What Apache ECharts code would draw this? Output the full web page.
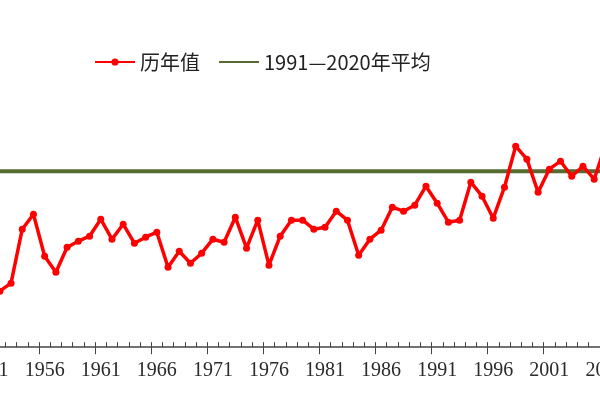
<!DOCTYPE html>
<html><head><meta charset="utf-8">
<script src="https://cdn.jsdelivr.net/npm/echarts@6/dist/echarts.min.js"></script>
<style>html,body{margin:0;padding:0;background:#fff;overflow:hidden;width:600px;height:400px;position:relative}#c{position:absolute;left:-17.1px;top:0;width:628.3px;height:400px}</style>
</head><body><div id="c"></div>
<script>
const years = [];
for (let y = 1951; y <= 2006; y++) years.push(String(y));
const annualValues = [
  8.60, 8.56, 8.64, 9.18, 9.33, 8.91, 8.75, 9.00, 9.06, 9.11,
  9.28, 9.08, 9.23, 9.04, 9.10, 9.15, 8.80, 8.96, 8.84, 8.94,
  9.08, 9.05, 9.30, 8.99, 9.27, 8.82, 9.11, 9.27, 9.27, 9.18,
  9.20, 9.36, 9.27, 8.92, 9.08, 9.17, 9.40, 9.36, 9.42, 9.61,
  9.44, 9.25, 9.27, 9.65, 9.51, 9.29, 9.60, 10.01, 9.88, 9.55,
  9.78, 9.86, 9.71, 9.81, 9.68, 10.02
];
const normalValue = 9.76;
const normalLine = years.map(() => normalValue);
const seriesNames = ['历年值', '1991—2020年平均'];

const chart = echarts.init(document.getElementById('c'));
chart.setOption({
  animation: false,
  backgroundColor: '#fff',
  legend: {
    left: 106, top: 47,
    itemWidth: 40, itemHeight: 9, itemGap: 18,
    textStyle: { fontFamily: 'Noto Sans CJK SC', fontSize: 20, color: '#222' },
    data: [
      { name: seriesNames[0] },
      { name: seriesNames[1], itemStyle: { opacity: 0 } }
    ]
  },
  grid: { left: 0, right: 0, top: 47.2, bottom: 52.8, containLabel: false, outerBoundsMode: 'none' },
  xAxis: [
    {
      type: 'category', data: years, boundaryGap: true, position: 'bottom',
      axisLine: { show: true, lineStyle: { color: '#444', width: 1.5 } },
      axisTick: { show: true, inside: true, length: 5, interval: 0, lineStyle: { color: '#444', width: 1 } },
      axisLabel: { show: false },
      splitLine: { show: false }
    },
    {
      type: 'category', data: years, boundaryGap: true, position: 'bottom',
      axisLine: { show: false },
      axisTick: { show: true, inside: false, length: 7, interval: (i) => i % 5 === 0, lineStyle: { color: '#444', width: 1 } },
      axisLabel: { show: true, interval: 4, margin: 14, fontFamily: 'Liberation Serif', fontSize: 20, color: '#2a2a2a' },
      splitLine: { show: false }
    }
  ],
  yAxis: {
    type: 'value', min: 8, max: 11, show: false, splitLine: { show: false }
  },
  series: [
    {
      name: seriesNames[0], type: 'line', data: annualValues, xAxisIndex: 0,
      symbol: 'circle', symbolSize: 7, showSymbol: true, showAllSymbol: true,
      itemStyle: { color: '#ff0000' },
      lineStyle: { color: '#ff0000', width: 3.5 },
      z: 3
    },
    {
      name: seriesNames[1], type: 'line', data: normalLine, xAxisIndex: 0,
      symbol: 'none',
      itemStyle: { color: '#566b30' },
      lineStyle: { color: '#566b30', width: 4 },
      z: 2
    }
  ]
});
</script></body></html>
